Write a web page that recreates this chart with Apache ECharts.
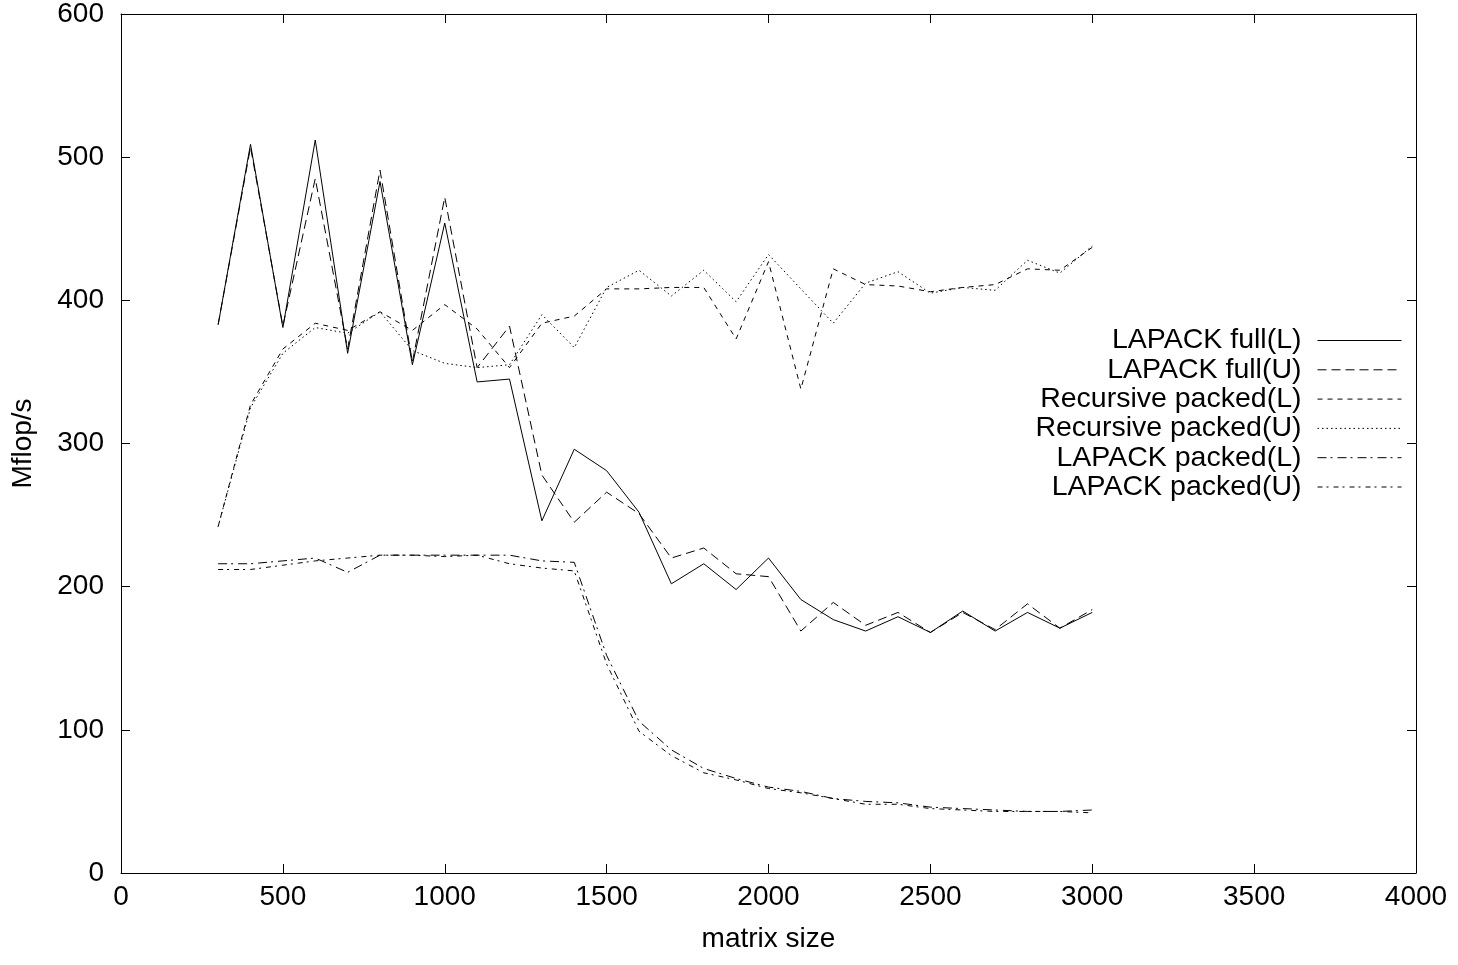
<!DOCTYPE html>
<html>
<head>
<meta charset="utf-8">
<script src="https://cdn.jsdelivr.net/npm/echarts@6/dist/echarts.min.js"></script>
<style>
html,body{margin:0;padding:0;background:#fff;}
#c{width:1458px;height:965px;}
</style>
</head>
<body>
<div id="c"></div>
<script>
// matrix sizes
var sizes = [300,400,500,600,700,800,900,1000,1100,1200,1300,1400,1500,1600,1700,1800,1900,2000,2100,2200,2300,2400,2500,2600,2700,2800,2900,3000];
var lapackFullL = [383,509,381,512,363,483,355,454,343,345,246,296,281,252,202,216,198,220,191,177,169,179,168,183,169,182,171,182];
var lapackFullU = [383,507,382,485,366,491,357,472,353,382,278,245,266,251,220,227,209,207,169,189,173,182,168,182,170,188,171,184];
var recPackedL  = [242,327,366,384,379,392,379,397,380,353,384,389,408,408,409,409,373,427,338,422,411,410,406,409,411,422,421,437];
var recPackedU  = [242,325,363,381,377,392,365,356,353,355,390,367,409,421,403,421,399,432,408,384,412,420,405,409,407,428,419,438];
var lapackPackedL = [216,216,218,220,210,222,222,222,222,222,218,217,152,106,86,73,66,60,57,52,50,49,46,45,44,43,43,44];
var lapackPackedU = [212,212,215,218,220,222,222,221,222,216,213,211,146,99,82,70,65,59,56,52,48,48,45,44,43,43,43,42];
var seriesNames = ['LAPACK full(L)','LAPACK full(U)','Recursive packed(L)','Recursive packed(U)','LAPACK packed(L)','LAPACK packed(U)'];
var xTicks = [0,500,1000,1500,2000,2500,3000,3500,4000];
var yTicks = [0,100,200,300,400,500,600];

var FONT = '"Liberation Sans", Arial, Helvetica, sans-serif';
var allData = [lapackFullL, lapackFullU, recPackedL, recPackedU, lapackPackedL, lapackPackedU];
var dashes = ['solid', [9,5], [5,5], [1.5,3], [9,4,2,5], [5,4,2,5]];

function pairs(vals){ return sizes.map(function(s,i){ return [s, vals[i]]; }); }

var series = allData.map(function(vals, k){
  return {
    name: seriesNames[k],
    type: 'line',
    xAxisIndex: 0, yAxisIndex: 0,
    data: pairs(vals),
    symbol: 'none',
    showSymbol: false,
    silent: true,
    animation: false,
    lineStyle: { color: '#000', width: 1, type: dashes[k] },
    itemStyle: { color: '#000' }
  };
});

var xMin = xTicks[0], xMax = xTicks[xTicks.length-1], xInt = xTicks[1]-xTicks[0];
var yMin = yTicks[0], yMax = yTicks[yTicks.length-1], yInt = yTicks[1]-yTicks[0];
function plain(v){ return String(v); }

var chart = echarts.init(document.getElementById('c'), null, {renderer:'canvas'});
chart.setOption({
  animation: false,
  backgroundColor: '#fff',
  textStyle: { fontFamily: FONT, color: '#000' },
  grid: { left: 121, right: 42, top: 14, bottom: 92, containLabel: false, outerBoundsMode: 'none' },
  legend: {
    orient: 'vertical',
    align: 'right',
    right: 56,
    top: 326,
    padding: 0,
    itemGap: 0.3,
    itemWidth: 84,
    itemHeight: 14,
    selectedMode: false,
    data: seriesNames,
    lineStyle: { width: 1 },
    itemStyle: { color: 'rgba(0,0,0,0)', borderWidth: 0, borderColor: 'rgba(0,0,0,0)' },
    textStyle: { fontFamily: FONT, fontSize: 28.5, color: '#000', lineHeight: 28, padding: [0, 11, 0, 0] }
  },
  xAxis: [{
    type: 'value', min: xMin, max: xMax, interval: xInt,
    name: 'matrix size', nameLocation: 'middle', nameGap: 52,
    nameTextStyle: { fontFamily: FONT, fontSize: 28, color: '#000' },
    axisLine: { show: true, onZero: false, lineStyle: { color: '#000', width: 1 } },
    axisTick: { show: true, inside: true, length: 9, lineStyle: { color: '#000' } },
    axisLabel: { fontFamily: FONT, fontSize: 28, color: '#000', margin: 10, formatter: plain },
    splitLine: { show: false }
  },{
    type: 'value', position: 'top', min: xMin, max: xMax, interval: xInt,
    axisLine: { show: true, onZero: false, lineStyle: { color: '#000', width: 1 } },
    axisTick: { show: true, inside: true, length: 9, lineStyle: { color: '#000' } },
    axisLabel: { show: false },
    splitLine: { show: false }
  }],
  yAxis: [{
    type: 'value', min: yMin, max: yMax, interval: yInt,
    name: 'Mflop/s', nameLocation: 'middle', nameGap: 84, nameRotate: 90,
    nameTextStyle: { fontFamily: FONT, fontSize: 28, color: '#000' },
    axisLine: { show: true, onZero: false, lineStyle: { color: '#000', width: 1 } },
    axisTick: { show: true, inside: true, length: 9, lineStyle: { color: '#000' } },
    axisLabel: { fontFamily: FONT, fontSize: 28, color: '#000', margin: 17, formatter: plain },
    splitLine: { show: false }
  },{
    type: 'value', position: 'right', min: yMin, max: yMax, interval: yInt,
    axisLine: { show: true, onZero: false, lineStyle: { color: '#000', width: 1 } },
    axisTick: { show: true, inside: true, length: 9, lineStyle: { color: '#000' } },
    axisLabel: { show: false },
    splitLine: { show: false }
  }],
  series: series
});
</script>
</body>
</html>
